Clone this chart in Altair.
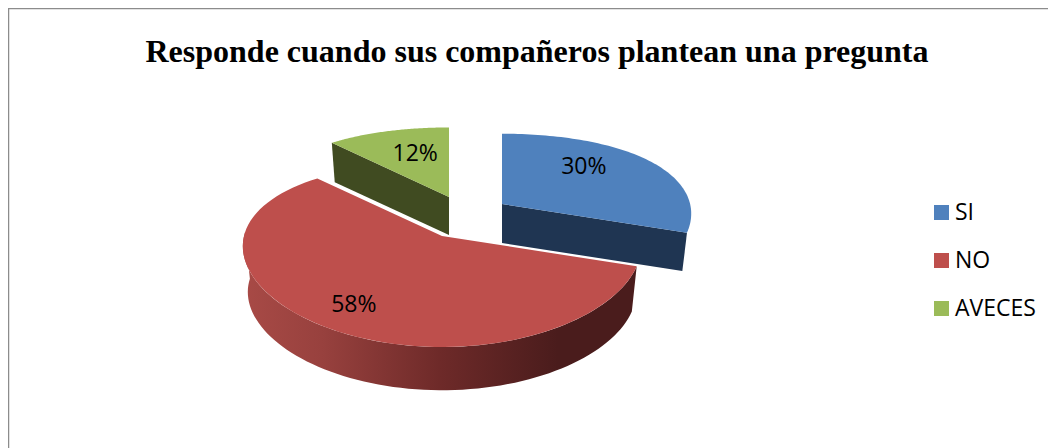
import numpy as np
import pandas as pd
import altair as alt

title = "Responde cuando sus compañeros plantean una pregunta"
categories = ["SI", "NO", "AVECES"]
values = [30, 58, 12]
face_colors = ["#4f81bd", "#be4f4c", "#9bbb59"]
wall_colors = ["#1f3552", "#4a1c1c", "#404b21"]

W, H = 1040, 440
# exploded 3D-pie layout (apex of each slice, size factor, wall depth, label radii)
apex = [(494, 196), (434, 228), (441, 189)]
size = [0.95, 1.0, 0.94]
depth = [39, 46, 38]
label_rx = [0.575, 0.76, 0.55]
label_ry = [0.81, 0.76, 0.66]
A, B_FRONT, B_BACK, K = 198, 111, 74, 0.11


def project(i, th, drop=0.0):
    cx, cy = apex[i]
    s = size[i] * (1 - 0.025 * drop)
    c, n = np.cos(th), np.sin(th)
    x = cx + s * A * n * (1 - K * c)
    y = cy + depth[i] * drop - s * c * ((B_FRONT + B_BACK) / 2 - (B_FRONT - B_BACK) / 2 * c)
    return x, y


shares = np.array(values) / sum(values)
edges = np.concatenate([[0], np.cumsum(shares)]) * 2 * np.pi


def frame(points):
    pts = list(points) + [points[0]]
    return pd.DataFrame({"x": [p[0] for p in pts], "y": [p[1] for p in pts], "i": range(len(pts))})


def poly(points, fill):
    return (
        alt.Chart(frame(points))
        .mark_line(fill=fill, stroke="transparent", strokeWidth=0, clip=False)
        .encode(
            x=alt.X("x:Q", scale=alt.Scale(domain=[0, W]), axis=None),
            y=alt.Y("y:Q", scale=alt.Scale(domain=[H, 0]), axis=None),
            order="i:Q",
        )
    )


def rim(i, a, b, drop=0.0, n=80):
    return [project(i, t, drop) for t in np.linspace(a, b, n)]


layers = []
# green slice: cut face
i = 2
cx, cy = apex[i]
layers.append(poly([(cx, cy), project(i, edges[2]), project(i, edges[2], 1), (cx, cy + depth[i])], wall_colors[i]))
# blue slice: cut face
i = 0
cx, cy = apex[i]
layers.append(poly([(cx, cy), project(i, edges[1]), project(i, edges[1], 1), (cx, cy + depth[i])], wall_colors[i]))
# red slice: outer wall with gradient
i = 1
red_wall = alt.Gradient(
    gradient="linear", x1=0, x2=1, y1=0, y2=0,
    stops=[
        alt.GradientStop(offset=0, color="#a84a46"),
        alt.GradientStop(offset=0.2, color="#98413e"),
        alt.GradientStop(offset=0.5, color="#6e2a29"),
        alt.GradientStop(offset=0.8, color="#4a1c1c"),
        alt.GradientStop(offset=1, color="#4a1c1c"),
    ],
)
layers.append(poly(rim(i, edges[1], 4.75) + rim(i, 4.75, edges[1], 1), red_wall))
# top faces
for i in range(3):
    layers.append(poly([apex[i]] + rim(i, edges[i], edges[i + 1]), face_colors[i]))

# percentage labels
mids = (edges[:-1] + edges[1:]) / 2
labels = pd.DataFrame(
    {
        "x": [apex[k][0] + label_rx[k] * (project(k, mids[k])[0] - apex[k][0]) for k in range(3)],
        "y": [apex[k][1] + label_ry[k] * (project(k, mids[k])[1] - apex[k][1]) for k in range(3)],
        "t": [f"{v}%" for v in values],
    }
)
xs = alt.X("x:Q", scale=alt.Scale(domain=[0, W]), axis=None)
ys = alt.Y("y:Q", scale=alt.Scale(domain=[H, 0]), axis=None)
layers.append(
    alt.Chart(labels).mark_text(font="Open Sans", fontSize=23, color="#000000").encode(x=xs, y=ys, text="t:N")
)

# chart title as a text mark so it sits inside the frame
layers.append(
    alt.Chart(pd.DataFrame({"t": [title]}))
    .mark_text(font="Liberation Serif", fontSize=32, fontWeight="bold", color="#000000", align="center")
    .encode(x=alt.value(529), y=alt.value(44), text="t:N")
)

# frame (top and left edge)
layers.append(
    alt.Chart(pd.DataFrame({"a": [0]})).mark_rule(color="#8c8c8c", strokeWidth=1.5)
    .encode(x=alt.value(0), x2=alt.value(W), y=alt.value(0.5))
)
layers.append(
    alt.Chart(pd.DataFrame({"a": [0]})).mark_rule(color="#8c8c8c", strokeWidth=1.5)
    .encode(y=alt.value(0), y2=alt.value(H), x=alt.value(0.5))
)

# legend source
layers.append(
    alt.Chart(pd.DataFrame({"c": categories}))
    .mark_square(size=0, opacity=1)
    .encode(
        x=alt.value(-50),
        y=alt.value(-50),
        fill=alt.Fill(
            "c:N",
            scale=alt.Scale(domain=categories, range=face_colors),
            legend=alt.Legend(
                title=None,
                orient="none",
                legendX=922,
                legendY=193,
                symbolType="square",
                symbolSize=225,
                symbolStrokeWidth=0,
                symbolOpacity=1,
                labelFont="Open Sans",
                labelFontSize=23,
                labelColor="#000000",
                labelOffset=2,
                rowPadding=24,
                labelLimit=200,
            ),
        ),
    )
)

chart = (
    alt.layer(*layers)
    .resolve_scale(x="shared", y="shared")
    .properties(
        width=W,
        height=H,
        padding=0,
        autosize=alt.AutoSizeParams(type="none"),
        background="#ffffff",
    )
    .configure_view(stroke=None)
)
chart.save("out.html", embed_options={"renderer": "svg", "actions": False})
